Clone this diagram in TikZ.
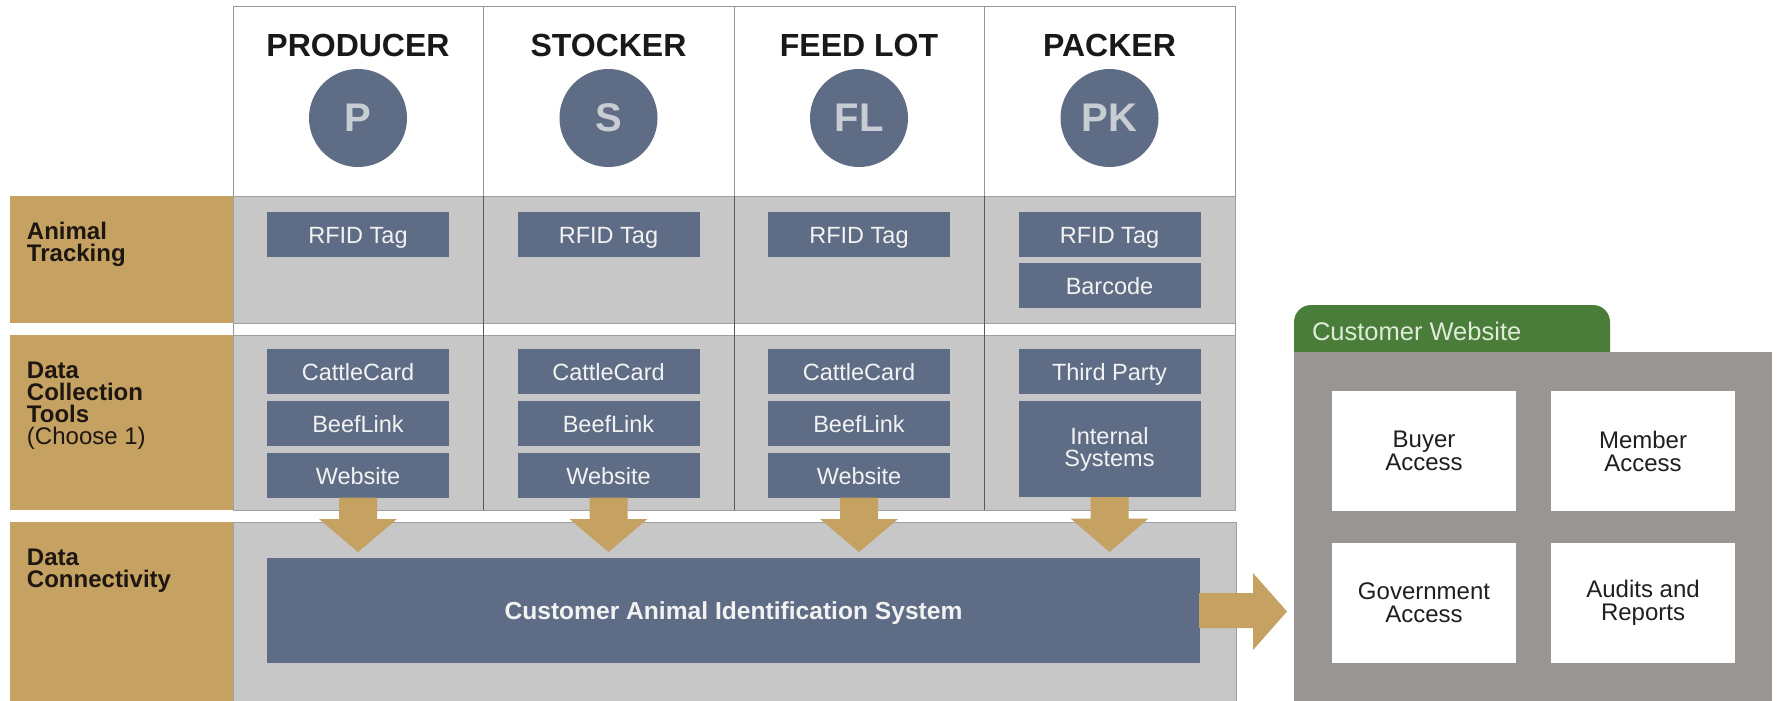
\documentclass[tikz,border=0pt]{standalone}
\usepackage{fontspec}
\setmainfont{Liberation Sans}
\usetikzlibrary{calc}
\definecolor{gold}{RGB}{197,161,98}
\definecolor{slate}{RGB}{94,109,133}
\definecolor{rowgray}{RGB}{199,199,199}
\definecolor{rowedge}{RGB}{160,160,160}
\definecolor{hdredge}{RGB}{150,150,150}
\definecolor{divline}{RGB}{90,90,90}
\definecolor{webgray}{RGB}{152,149,146}
\definecolor{tabgreen}{RGB}{74,124,58}
\definecolor{lettergray}{RGB}{200,205,212}
\definecolor{tabtext}{RGB}{222,236,216}
\definecolor{boxtext}{RGB}{242,242,242}
\definecolor{labtext}{RGB}{30,22,16}
\newcommand\dnflow[2]{\fill[flow] ($(#1.south)+(-19,0)$) -- ++(0,21.5) -- ++(-20,0) -- ($(#1.south |- #2.north)+(0,-6)$) -- ($(#1.south)+(39,21.5)$) -- ++(-20,0) -- ($(#1.south)+(19,0)$) -- cycle;}
\begin{document}
\begin{tikzpicture}[x=1pt,y=-1pt,
  every node/.style={inner sep=0pt, outer sep=0pt},
  hdr/.style={font=\fontsize{32}{32}\selectfont\bfseries, text=black!90, anchor=base},
  disc/.style={circle, fill=slate, minimum size=98pt, text=lettergray, font=\fontsize{40}{40}\selectfont\bfseries},
  tool/.style={fill=slate, text=boxtext, minimum width=182pt, minimum height=45pt, font=\fontsize{23.5}{22}\selectfont, text height=18.6pt, text depth=0pt},
  tooltwo/.style={fill=slate, text=boxtext, minimum width=182pt, align=center, font=\fontsize{23.5}{22}\selectfont},
  lab/.style={anchor=north west, align=left, text=labtext, font=\fontsize{24}{22}\selectfont},
  access/.style={fill=white, minimum width=184pt, minimum height=120pt, align=center, text=black!88, font=\fontsize{24}{23}\selectfont},
  flow/.style={fill=gold}
]
\useasboundingbox[fill=white] (0,0) rectangle (1777,701);

% header columns
\draw[hdredge, fill=white, line width=1pt] (233,7) rectangle (1235,510);
\foreach \x in {483.5,734,984.5} \draw[hdredge, line width=1pt] (\x,7) -- (\x,196);

% row label cells and bands
\fill[gold] (10,196) rectangle (233,323);
\fill[gold] (10,335) rectangle (233,510);
\fill[gold] (10,522) rectangle (233,701);
\filldraw[fill=rowgray, draw=rowedge, line width=1pt] (233,196) rectangle (1235,323);
\filldraw[fill=rowgray, draw=rowedge, line width=1pt] (233,335) rectangle (1235,510);
\filldraw[fill=rowgray, draw=rowedge, line width=1pt] (233,522) rectangle (1236,702);
\foreach \x in {483.5,734,984.5} \draw[divline, line width=1pt] (\x,196) -- (\x,510);

% row labels
\node[lab] (lab1) at (27,222.5) {\textbf{Animal}\\\textbf{Tracking}};
\node[lab] (lab2) at (27,362) {\textbf{Data}\\\textbf{Collection}\\\textbf{Tools}\\(Choose 1)};
\node[lab] (lab3) at (27,549) {\textbf{Data}\\\textbf{Connectivity}};

% headers
\node[hdr] (hP) at (358,57) {PRODUCER};
\node[hdr] (hS) at (608.5,57) {STOCKER};
\node[hdr] (hF) at (859,57) {FEED LOT};
\node[hdr] (hK) at (1109.5,57) {PACKER};
\node[disc] (cP) at (358,118) {P};
\node[disc] (cS) at (608.5,118) {S};
\node[disc] (cF) at (859,118) {FL};
\node[disc] (cK) at (1109.5,118) {PK};

% animal tracking
\node[tool] (rfP) at (358,234.5) {RFID Tag};
\node[tool] (rfS) at (608.5,234.5) {RFID Tag};
\node[tool] (rfF) at (859,234.5) {RFID Tag};
\node[tool] (rfK) at (1109.5,234.5) {RFID Tag};
\node[tool] (bcK) at (1109.5,285.5) {Barcode};

% data collection tools
\node[tool] (ccP) at (358,371.5) {CattleCard};
\node[tool] (blP) at (358,423.5) {BeefLink};
\node[tool] (wsP) at (358,475) {Website};
\node[tool] (ccS) at (608.5,371.5) {CattleCard};
\node[tool] (blS) at (608.5,423.5) {BeefLink};
\node[tool] (wsS) at (608.5,475) {Website};
\node[tool] (ccF) at (859,371.5) {CattleCard};
\node[tool] (blF) at (859,423.5) {BeefLink};
\node[tool] (wsF) at (859,475) {Website};
\node[tool] (tpK) at (1109.5,371.5) {Third Party};
\node[tooltwo, minimum height=96pt] (isK) at (1109.5,449) {Internal\\Systems};

% data connectivity
\node[fill=slate, text=boxtext, minimum width=933pt, minimum height=105pt, font=\fontsize{24.6}{24}\selectfont\bfseries, text height=17.6pt, text depth=0pt] (cais) at (733.5,610.5) {Customer Animal Identification System};

% flows
\dnflow{wsP}{cais}
\dnflow{wsS}{cais}
\dnflow{wsF}{cais}
\dnflow{isK}{cais}

% customer website
\fill[tabgreen, rounded corners=17pt] (1294,372) -- (1294,305) -- (1610,305) -- (1610,372) -- cycle;
\node[fill=webgray, minimum width=478pt, minimum height=349pt] (web) at (1533,526.5) {};
\node[anchor=base west, text=tabtext, font=\fontsize{25.5}{25.5}\selectfont] (cwt) at (1312,340) {Customer Website};
\coordinate (tip) at ($(cais.east -| web.west)+(-7,1)$);
\fill[flow] ($(cais.east)+(-1,-17.5)$) -- ($(cais.east)+(53,-17.5)$) -- ($(cais.east)+(53,-37.5)$) -- (tip) -- ($(cais.east)+(53,39.5)$) -- ($(cais.east)+(53,17.5)$) -- ($(cais.east)+(-1,17.5)$) -- cycle;

\node[access] (buy) at (1424,451) {Buyer\\Access};
\node[access] (mem) at (1643,451) {Member\\Access};
\node[access] (gov) at (1424,603) {Government\\Access};
\node[access] (aud) at (1643,603) {Audits and\\Reports};
\end{tikzpicture}
\end{document}
